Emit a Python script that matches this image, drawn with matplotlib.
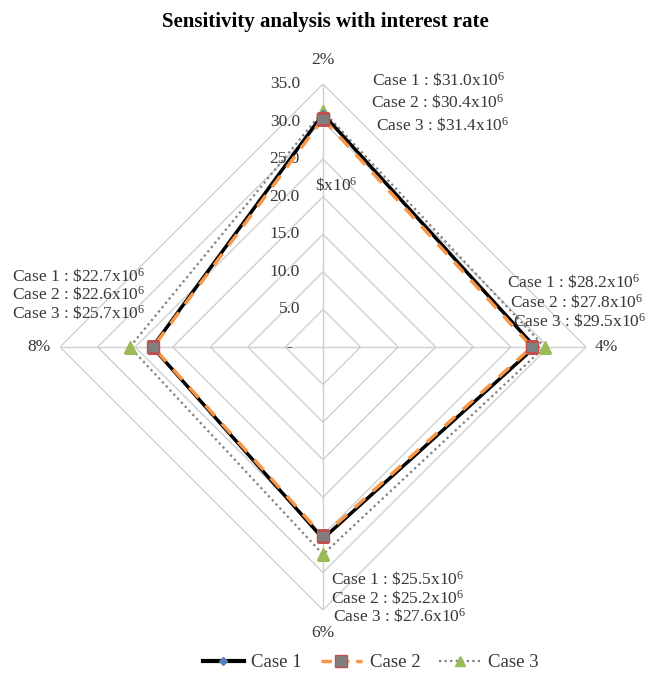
import numpy as np
import matplotlib
matplotlib.use("Agg")
import matplotlib.pyplot as plt
from matplotlib.lines import Line2D

plt.rcParams['font.family'] = ['Liberation Serif', 'DejaVu Serif']
plt.rcParams['mathtext.fontset'] = 'custom'
plt.rcParams['mathtext.rm'] = 'Liberation Serif'
plt.rcParams['mathtext.it'] = 'Liberation Serif:italic'
plt.rcParams['mathtext.bf'] = 'Liberation Serif:bold'

categories = ["2%", "4%", "6%", "8%"]
case1 = [31.0, 28.2, 25.5, 22.7]
case2 = [30.4, 27.8, 25.2, 22.6]
case3 = [31.4, 29.5, 27.6, 25.7]
series_names = ["Case 1", "Case 2", "Case 3"]
ring_values = [0, 5, 10, 15, 20, 25, 30, 35]
ring_labels = ["-", "5.0", "10.0", "15.0", "20.0", "25.0", "30.0", "35.0"]

W, H = 650, 680
fig = plt.figure(figsize=(W / 100, H / 100), dpi=100)
cx, cy, R = 323, 347, 263
ax = fig.add_axes([(cx - R) / W, (H - cy - R) / H, 2 * R / W, 2 * R / H],
                  projection='polar')
ax.set_theta_zero_location('N')
ax.set_theta_direction(-1)
ax.set_ylim(0, 35)
ax.grid(False)
ax.spines['polar'].set_visible(False)
ax.set_xticks([])
ax.set_yticks([])
ax.patch.set_visible(False)

n = len(categories)
theta = np.arange(n) * 2 * np.pi / n
theta_c = np.append(theta, theta[0])

grid_col = '#d0d0d0'
for r in ring_values[1:]:
    ax.plot(theta_c, [r] * (n + 1), color=grid_col, lw=1.0, zorder=1)
for t in theta:
    ax.plot([t, t], [0, 35], color=grid_col, lw=1.0, zorder=1)

txt_col = '#383838'
FS = 12.5
for r, lab in zip(ring_values, ring_labels):
    ax.annotate(lab, xy=(0, r), xytext=(-23 if lab != "-" else -31, 0),
                textcoords='offset pixels', ha='right', va='center',
                fontsize=FS, color=txt_col)

cat_offsets = [(0, 24), (20, 0), (0, -23), (-21, 0)]
for t, lab, off in zip(theta, categories, cat_offsets):
    ax.annotate(lab, xy=(t, 35), xytext=off, textcoords='offset pixels',
                ha='center', va='center', fontsize=FS, color=txt_col)

def close(v):
    return list(v) + [v[0]]

ax.plot(theta_c, close(case1), color='black', lw=2.5, marker='D', ms=4,
        mfc='#4f81bd', mec='#4f81bd', zorder=3)
ax.plot(theta_c, close(case2), color='#f79646', lw=2.5, ls=(0, (4, 3)),
        marker='s', ms=8.5, mfc='#7f7f7f', mec='#c0504d', mew=1.0, zorder=4)
ax.plot(theta_c, close(case3), color='#7f7f7f', lw=1.6, ls=(0, (1, 1.5)),
        marker='^', ms=9, mfc='#9bbb59', mec='#9bbb59', zorder=2)

fig.text(cx / W + 0.02, 1 - 185 / H, r"\$x10$^{6}$", ha='center', va='center',
         fontsize=FS, color=txt_col)

def ftext(x, y, s):
    fig.text(x / W, 1 - y / H, s, ha='left', va='center', fontsize=FS,
             color=txt_col)

blocks = [
    [(372, 80), (371, 102), (376, 125)],
    [(507, 282), (510, 302), (513, 321)],
    [(331, 579), (331, 598), (333, 616)],
    [(12, 276), (12, 294), (12, 313)],
]
for bi, pos in enumerate(blocks):
    vals = [case1[bi], case2[bi], case3[bi]]
    for name, v, (x, y) in zip(series_names, vals, pos):
        ftext(x, y, name + " : \\$" + f"{v:.1f}" + "x10$^{6}$")

fig.text(0.5, 1 - 22 / H, "Sensitivity analysis with interest rate",
         ha='center', va='center', fontsize=15, fontweight='bold',
         color='black')

handles = [
    Line2D([], [], color='black', lw=3, marker='D', ms=4.5,
           mfc='#4f81bd', mec='#4f81bd'),
    Line2D([], [], color='#f79646', lw=2.5, ls=(0, (3, 2)), marker='s',
           ms=8, mfc='#7f7f7f', mec='#c0504d'),
    Line2D([], [], color='#7f7f7f', lw=1.6, ls=(0, (1, 1.5)), marker='^',
           ms=7, mfc='#9bbb59', mec='#9bbb59'),
]
fig.legend(handles, series_names, loc='lower center',
           bbox_to_anchor=(0.57, -0.012), ncol=3,
           frameon=False, fontsize=13.5, handlelength=2.2, columnspacing=1.0,
           handletextpad=0.4, labelcolor=txt_col)

fig.savefig("out.png", dpi=100)
